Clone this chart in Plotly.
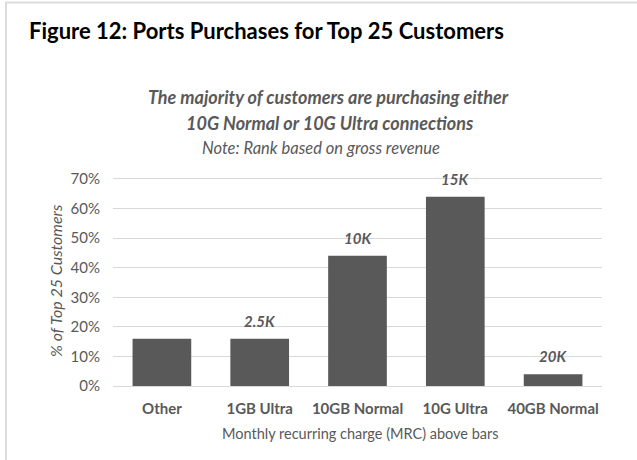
import plotly.graph_objects as go

# Port types and share of the top 25 customers buying each (percent)
categories = ["Other", "1GB Ultra", "10GB Normal", "10G Ultra", "40GB Normal"]
share_pct = [16, 16, 44, 64, 4]
# Monthly recurring charge shown above each bar ("" = none)
mrc_labels = ["", "2.5K", "10K", "15K", "20K"]
y_ticks = [0, 10, 20, 30, 40, 50, 60, 70]
y_tick_text = ["0%", "10%", "20%", "30%", "40%", "50%", "60%", "70%"]

W, H = 637, 460
ML, MR, MT, MB = 113, 35, 173, 74
Y_MAX = 72

FONT = "Lato"
GRAY = "#595959"


def px_x(px):
    return (px - ML) / (W - ML - MR)


def px_y(py):
    return (H - MB - py) / (H - MT - MB)


fig = go.Figure()
fig.add_trace(go.Bar(
    x=categories,
    y=share_pct,
    marker=dict(color="#595959", line=dict(width=0)),
    width=0.6,
    hoverinfo="skip",
))

annotations = []
for cat, val, lab in zip(categories, share_pct, mrc_labels):
    if lab:
        annotations.append(dict(
            x=cat, y=val, xref="x", yref="y", text=f"<b><i>{lab}</i></b>",
            showarrow=False, yanchor="bottom", yshift=7,
            font=dict(family=FONT, size=15, color=GRAY),
        ))

# Figure heading
annotations.append(dict(
    x=px_x(27), y=px_y(30), xref="paper", yref="paper", xanchor="left", yanchor="middle",
    text="<b>Figure 12: Ports Purchases for Top 25 Customers</b>", showarrow=False,
    font=dict(family=FONT, size=22, color="#000000"),
))
# Chart title lines and note
for text, xc, yc, size in [
    ("<b><i>The majority of customers are purchasing either</i></b>", 328, 97, 18),
    ("<b><i>10G Normal or 10G Ultra connections</i></b>", 330, 123, 18),
    ("<i>Note: Rank based on gross revenue</i>", 321, 148, 16.5),
]:
    annotations.append(dict(
        x=px_x(xc), y=px_y(yc), xref="paper", yref="paper", xanchor="center", yanchor="middle",
        text=text, showarrow=False, font=dict(family=FONT, size=size, color=GRAY),
    ))
# Y axis title
annotations.append(dict(
    x=px_x(55), y=px_y(281), xref="paper", yref="paper", xanchor="center", yanchor="middle",
    text="<i>% of Top 25 Customers</i>", textangle=-90, showarrow=False,
    font=dict(family=FONT, size=16, color=GRAY),
))
# X axis title
annotations.append(dict(
    x=px_x(360), y=px_y(433), xref="paper", yref="paper", xanchor="center", yanchor="middle",
    text="Monthly recurring charge (MRC) above bars", showarrow=False,
    font=dict(family=FONT, size=14.5, color=GRAY),
))

shapes = [
    # frame lines along the top and left edges
    dict(type="line", xref="paper", yref="paper", x0=px_x(5), x1=px_x(637), y0=px_y(2.5), y1=px_y(2.5),
         line=dict(color="#dcdcdc", width=2)),
    dict(type="line", xref="paper", yref="paper", x0=px_x(6), x1=px_x(6), y0=px_y(2), y1=px_y(460),
         line=dict(color="#dcdcdc", width=2)),
]

fig.update_layout(
    width=W, height=H,
    margin=dict(l=ML, r=MR, t=MT, b=MB),
    paper_bgcolor="white", plot_bgcolor="white",
    showlegend=False,
    bargap=0.4,
    annotations=annotations,
    shapes=shapes,
    xaxis=dict(
        type="category", showgrid=False, showline=False, zeroline=False, ticks="",
        tickfont=dict(family=FONT, size=15, color=GRAY, weight="bold"),
        ticklabelstandoff=12,
    ),
    yaxis=dict(
        range=[0, Y_MAX], tickvals=y_ticks, ticktext=y_tick_text,
        showgrid=True, gridcolor="#d9d9d9", gridwidth=1,
        zeroline=True, zerolinecolor="#d9d9d9", zerolinewidth=1,
        showline=False, ticks="",
        tickfont=dict(family=FONT, size=15, color=GRAY),
        ticklabelstandoff=12,
    ),
)

fig.write_html("out.html")
